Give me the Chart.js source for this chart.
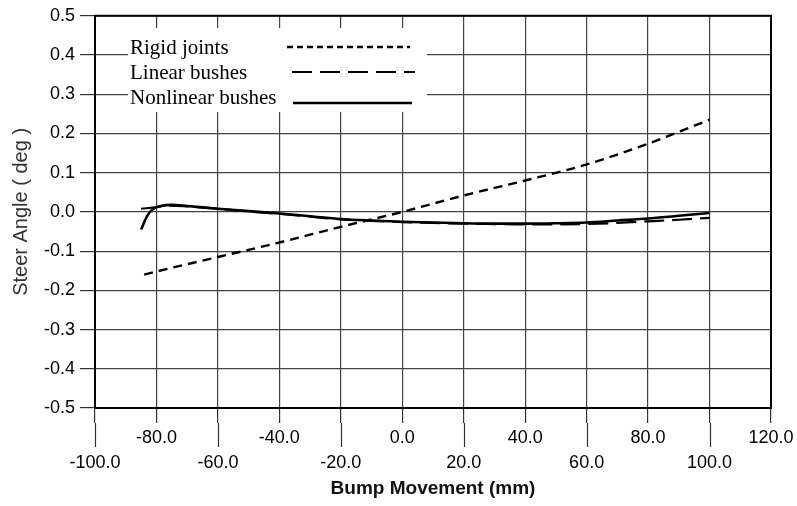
<!DOCTYPE html>
<html lang="en">
<head>
    <meta charset="UTF-8">
    <title>Steer Angle vs Bump Movement</title>
    <script src="https://cdn.jsdelivr.net/npm/chart.js"></script>
    <style>
        body {
            margin: 0;
            padding: 0;
            background-color: #ffffff;
        }

        #chartBox {
            position: relative;
            width: 797px;
            height: 506px;
        }
    </style>
</head>
<body>
    <div id="chartBox">
        <canvas id="steerChart" width="797" height="506"></canvas>
    </div>

    <script>
        // values
        const seriesNames = ['Rigid joints', 'Linear bushes', 'Nonlinear bushes'];

        const rigidX = [-84, -80, -60, -40, -20, 0, 20, 40, 60, 80, 100];
        const rigidY = [-0.160, -0.152, -0.115, -0.078, -0.038, 0.000, 0.042, 0.080, 0.121, 0.174, 0.235];

        const linearX = [-85, -80, -75, -70, -60, -50, -40, -30, -20, -10, 0, 10, 20, 30, 40, 50, 60, 70, 80, 90, 100];
        const linearY = [0.008, 0.012, 0.016, 0.014, 0.008, 0.001, -0.005, -0.012, -0.019, -0.023, -0.026, -0.028, -0.030, -0.031, -0.032, -0.032, -0.031, -0.028, -0.024, -0.020, -0.015];

        const nonlinearX = [-85, -83, -81, -78, -75, -70, -60, -50, -40, -30, -20, -10, 0, 10, 20, 30, 40, 50, 60, 70, 80, 90, 100];
        const nonlinearY = [-0.045, -0.010, 0.008, 0.016, 0.018, 0.015, 0.008, 0.002, -0.004, -0.011, -0.018, -0.022, -0.025, -0.027, -0.029, -0.030, -0.030, -0.029, -0.027, -0.022, -0.017, -0.010, -0.003];

        const xTicks = [-100, -80, -60, -40, -20, 0, 20, 40, 60, 80, 100, 120];
        const yTicks = [-0.5, -0.4, -0.3, -0.2, -0.1, 0.0, 0.1, 0.2, 0.3, 0.4, 0.5];

        const lineStyles = [
            { dash: [9, 6], width: 2.4 },
            { dash: [20, 8], width: 2.2 },
            { dash: [], width: 2.6 }
        ];

        function toPoints(xs, ys) {
            return xs.map((x, i) => ({ x: x, y: ys[i] }));
        }

        const allSeries = [
            toPoints(rigidX, rigidY),
            toPoints(linearX, linearY),
            toPoints(nonlinearX, nonlinearY)
        ];

        const datasets = allSeries.map((pts, i) => ({
            label: seriesNames[i],
            data: pts,
            borderColor: '#000',
            borderWidth: lineStyles[i].width,
            borderDash: lineStyles[i].dash,
            pointRadius: 0,
            tension: 0.4,
            cubicInterpolationMode: 'monotone',
            fill: false
        }));

        const tickFont = { family: 'Liberation Sans, Arial, sans-serif', size: 18, lineHeight: 1.4 };

        // frame, long ticks for the lower label row, and the boxed-in legend
        const decorPlugin = {
            id: 'decor',
            afterDraw(chart) {
                const ctx = chart.ctx;
                const area = chart.chartArea;
                const xs = chart.scales.x;
                ctx.save();
                ctx.strokeStyle = '#000';
                ctx.lineWidth = 2;
                ctx.strokeRect(area.left, area.top, area.right - area.left, area.bottom - area.top);

                ctx.lineWidth = 1.2;
                ctx.strokeStyle = '#333';
                xTicks.forEach((v, i) => {
                    if (i % 2 === 0) {
                        const px = Math.round(xs.getPixelForValue(v)) + 0.5;
                        ctx.beginPath();
                        ctx.moveTo(px, area.bottom + 15);
                        ctx.lineTo(px, area.bottom + 39);
                        ctx.stroke();
                    }
                });

                // legend
                ctx.fillStyle = '#fff';
                ctx.fillRect(128, 28, 299, 84);
                ctx.fillStyle = '#000';
                ctx.font = '21px "Liberation Serif", "Times New Roman", serif';
                ctx.textBaseline = 'alphabetic';
                const rowY = [54, 79, 104];
                const sample = [[287, 410, 47], [292, 415, 72], [293, 412, 103]];
                seriesNames.forEach((name, i) => {
                    ctx.fillText(name, 130, rowY[i]);
                    ctx.beginPath();
                    ctx.lineWidth = lineStyles[i].width;
                    ctx.strokeStyle = '#000';
                    ctx.setLineDash(i === 0 ? [6, 4] : lineStyles[i].dash);
                    ctx.moveTo(sample[i][0], sample[i][2]);
                    ctx.lineTo(sample[i][1], sample[i][2]);
                    ctx.stroke();
                });
                ctx.restore();
            }
        };

        const steerChart = new Chart(document.getElementById('steerChart'), {
            type: 'line',
            data: { datasets: datasets },
            options: {
                responsive: false,
                animation: false,
                layout: { padding: { top: 12, right: 26, left: 0, bottom: 0 } },
                plugins: {
                    legend: { display: false },
                    tooltip: { enabled: false }
                },
                scales: {
                    x: {
                        type: 'linear',
                        min: -100,
                        max: 120,
                        afterBuildTicks: (scale) => { scale.ticks = xTicks.map(v => ({ value: v })); },
                        afterFit: (scale) => { scale.height = 98; },
                        grid: { color: '#444', lineWidth: 1.2, tickLength: 15, tickColor: '#333' },
                        border: { display: false },
                        ticks: {
                            color: '#000',
                            font: tickFont,
                            padding: 2,
                            maxRotation: 0,
                            autoSkip: false,
                            callback: function (v) {
                                const idx = xTicks.indexOf(v);
                                const txt = v.toFixed(1);
                                return idx % 2 === 0 ? ['', txt] : txt;
                            }
                        },
                        title: {
                            display: true,
                            text: 'Bump Movement (mm)',
                            color: '#111',
                            font: { family: 'Liberation Sans, Arial, sans-serif', size: 19, weight: 'bold' },
                            padding: { top: 0, bottom: 6 }
                        }
                    },
                    y: {
                        type: 'linear',
                        min: -0.5,
                        max: 0.5,
                        afterBuildTicks: (scale) => { scale.ticks = yTicks.map(v => ({ value: v })); },
                        afterFit: (scale) => { scale.width = 95; },
                        grid: { color: '#444', lineWidth: 1.2, tickLength: 15, tickColor: '#333' },
                        border: { display: false },
                        ticks: {
                            color: '#000',
                            font: { family: 'Liberation Sans, Arial, sans-serif', size: 18 },
                            padding: 5,
                            callback: v => (Math.abs(v) < 1e-9 ? 0 : v).toFixed(1)
                        },
                        title: {
                            display: true,
                            text: 'Steer Angle ( deg )',
                            color: '#333',
                            font: { family: 'Liberation Sans, Arial, sans-serif', size: 20 },
                            padding: { top: 9, bottom: 0 }
                        }
                    }
                }
            },
            plugins: [decorPlugin]
        });
    </script>
</body>
</html>
